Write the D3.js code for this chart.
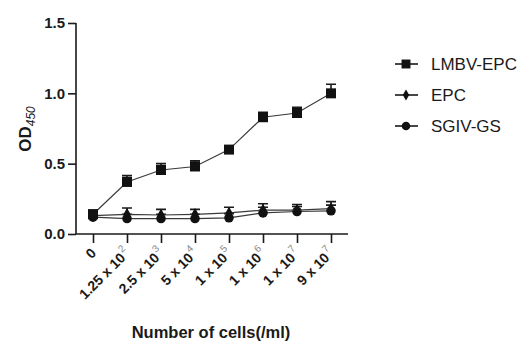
<!DOCTYPE html>
<html>
<head>
<meta charset="utf-8">
<script src="https://cdn.jsdelivr.net/npm/d3@7"></script>
<style>
    body { margin: 0; background: #ffffff; }
    text { font-family: "Liberation Sans", Arial, sans-serif; fill: #1a1a1a; }
</style>
</head>
<body>
<script>
// Chart data
var categories = ["0", "1.25 x 10", "2.5 x 10", "5 x 10", "1 x 10", "1 x 10", "1 x 10", "9 x 10"];
var exponents = ["", "2", "3", "4", "5", "6", "7", "7"];
var seriesNames = ["LMBV-EPC", "EPC", "SGIV-GS"];
var lmbvValues = [0.14, 0.37, 0.455, 0.48, 0.60, 0.83, 0.86, 1.00];
var lmbvErrors = [0.03, 0.045, 0.045, 0.04, 0.02, 0.035, 0.04, 0.065];
var epcValues = [0.13, 0.14, 0.135, 0.14, 0.15, 0.17, 0.17, 0.18];
var epcErrors = [0.02, 0.045, 0.04, 0.035, 0.04, 0.045, 0.04, 0.05];
var sgivValues = [0.12, 0.11, 0.11, 0.11, 0.115, 0.15, 0.16, 0.165];
var sgivErrors = [0.02, 0.03, 0.03, 0.03, 0.03, 0.04, 0.035, 0.04];
var yTicks = [0.0, 0.5, 1.0, 1.5];

window.onload = function() {

    var svgWidth = 526;
    var svgHeight = 341;

    var svg = d3.select("body").append("svg")
        .attr("width", svgWidth)
        .attr("height", svgHeight);

    // Scales
    var xScale = d3.scalePoint()
        .domain(d3.range(categories.length))
        .range([76, 348])
        .padding(0.5);

    var yScale = d3.scaleLinear()
        .domain([0, 1.5])
        .range([234, 23]);

    // Y axis
    var yAxis = svg.append("g")
        .attr("transform", "translate(76, 0)")
        .call(d3.axisLeft(yScale)
            .tickValues(yTicks)
            .tickSize(8)
            .tickPadding(3)
            .tickFormat(d3.format(".1f")));

    yAxis.select(".domain").attr("d", "M0," + yScale(1.5) + "V" + yScale(0));
    yAxis.selectAll("path, line")
        .attr("stroke", "#1a1a1a")
        .attr("stroke-width", 1.6);
    yAxis.selectAll("text")
        .style("font-size", "15px")
        .style("font-weight", "bold")
        .attr("fill", "#1a1a1a");

    // X axis
    var xAxis = svg.append("g")
        .attr("transform", "translate(0, 234)")
        .call(d3.axisBottom(xScale)
            .tickSize(9)
            .tickFormat(""));

    xAxis.select(".domain").attr("d", "M76,0H348");
    xAxis.selectAll("path, line")
        .attr("stroke", "#1a1a1a")
        .attr("stroke-width", 1.6);

    // Rotated tick labels with grey superscripts
    var labels = svg.append("g").selectAll(".xlabel")
        .data(d3.range(categories.length))
        .enter()
        .append("text")
        .attr("class", "xlabel")
        .attr("transform", function(i) {
            return "translate(" + (xScale(i) + 4) + ", 254) rotate(-45)";
        })
        .attr("text-anchor", "end")
        .style("font-size", "14px")
        .style("font-weight", "bold");

    labels.append("tspan")
        .text(function(i) { return categories[i]; });

    labels.append("tspan")
        .attr("dy", -7)
        .attr("dx", 1)
        .style("font-size", "10px")
        .style("font-weight", "normal")
        .attr("fill", "#8a8a8a")
        .text(function(i) { return exponents[i]; });

    // Axis titles
    svg.append("text")
        .attr("x", 211)
        .attr("y", 338)
        .attr("text-anchor", "middle")
        .style("font-size", "16.5px")
        .style("font-weight", "bold")
        .text("Number of cells(/ml)");

    var yLabel = svg.append("text")
        .attr("transform", "translate(31, 129) rotate(-90)")
        .attr("text-anchor", "middle")
        .style("font-size", "17px")
        .style("font-weight", "bold");
    yLabel.append("tspan").text("OD");
    yLabel.append("tspan")
        .attr("dy", 4)
        .style("font-size", "12px")
        .style("font-style", "italic")
        .style("font-weight", "normal")
        .text("450");

    // Series
    var series = [
        { name: seriesNames[2], values: sgivValues, errors: sgivErrors, marker: "circle" },
        { name: seriesNames[1], values: epcValues, errors: epcErrors, marker: "diamond" },
        { name: seriesNames[0], values: lmbvValues, errors: lmbvErrors, marker: "square" }
    ];

    var line = d3.line()
        .x(function(d, i) { return xScale(i); })
        .y(function(d) { return yScale(d); });

    series.forEach(function(s) {
        var g = svg.append("g");

        g.append("path")
            .datum(s.values)
            .attr("d", line)
            .attr("fill", "none")
            .attr("stroke", "#3a3a3a")
            .attr("stroke-width", 1.2);

        // Error bars, upper half only
        g.selectAll(".err")
            .data(s.values)
            .enter()
            .append("path")
            .attr("d", function(d, i) {
                var x = xScale(i);
                var top = yScale(d + s.errors[i]);
                return "M" + x + "," + yScale(d) + "V" + top + "M" + (x - 5) + "," + top + "H" + (x + 5);
            })
            .attr("stroke", "#1a1a1a")
            .attr("stroke-width", 1.6)
            .attr("fill", "none");

        g.selectAll(".mark")
            .data(s.values)
            .enter()
            .append("path")
            .attr("transform", function(d, i) {
                return "translate(" + xScale(i) + "," + yScale(d) + ")";
            })
            .attr("d", markerPath(s.marker))
            .attr("fill", "#111111");
    });

    // Legend
    var legend = svg.append("g").selectAll(".legend")
        .data([
            { name: seriesNames[0], marker: "square" },
            { name: seriesNames[1], marker: "diamond" },
            { name: seriesNames[2], marker: "circle" }
        ])
        .enter()
        .append("g")
        .attr("transform", function(d, i) {
            return "translate(406, " + (64 + i * 31) + ")";
        });

    legend.append("line")
        .attr("x1", -11)
        .attr("x2", 12)
        .attr("stroke", "#1a1a1a")
        .attr("stroke-width", 1.6);

    legend.append("path")
        .attr("d", function(d) { return markerPath(d.marker, true); })
        .attr("fill", "#111111");

    legend.append("text")
        .attr("x", 25)
        .attr("dy", "0.35em")
        .style("font-size", "17px")
        .text(function(d) { return d.name; });
};

function markerPath(type, small) {
    /*
    Symbol path for each series marker
    */
    var k = small ? 0.8 : 1;
    if (type === "square") {
        return d3.symbol().type(d3.symbolSquare).size(100 * k)();
    }
    if (type === "diamond") {
        return d3.symbol().type(d3.symbolDiamond).size(45 * k)();
    }
    return d3.symbol().type(d3.symbolCircle).size(72 * k)();
}
</script>
</body>
</html>
